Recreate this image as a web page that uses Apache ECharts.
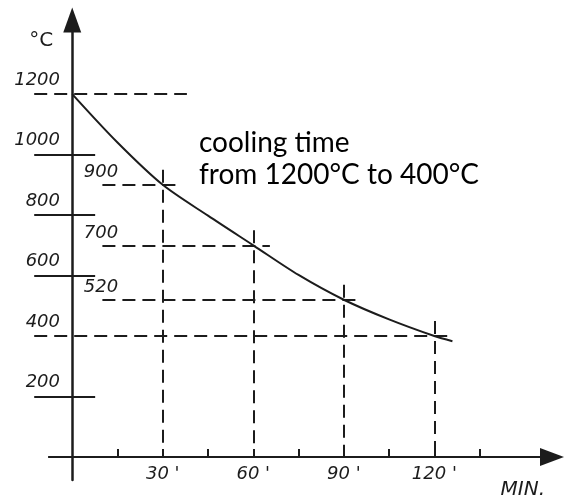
<!DOCTYPE html>
<html>
<head>
<meta charset="utf-8">
<title>Cooling time</title>
<script src="https://cdn.jsdelivr.net/npm/echarts@6.0.0/dist/echarts.min.js"></script>
<style>
  html, body { margin: 0; padding: 0; background: #fff; }
  cooling-chart { display: block; width: 565px; height: 500px; }
</style>
</head>
<body>
<cooling-chart></cooling-chart>
<script>
// cooling curve (minutes, °C)
const curveMinutes = [0, 15, 30, 45, 60, 75, 90, 105, 120, 126];
const curveTemps = [1200, 1040, 900, 798, 700, 602, 520, 455, 400, 383];

// times marked with dashed guides and the temperature read there
const markedMinutes = [30, 60, 90, 120];
const markedTemps = [900, 700, 520, 400];

// axis values
const yLabelValues = [200, 400, 600, 800, 1000, 1200];
const ySolidTicks = [200, 600, 800, 1000];
const xLabelValues = [30, 60, 90, 120];
const xTickValues = [15, 30, 45, 60, 75, 90, 105, 120, 135];

const INK = '#1c1c1c';
const DRAW_FONT = 'DejaVu Sans';

class CoolingChart extends HTMLElement {
  constructor() {
    super();
    this._chart = null;
  }

  connectedCallback() {
    this._chart = echarts.init(this);
    this._chart.setOption(this.buildOption());
    window.addEventListener('resize', this.handleResize);
  }

  disconnectedCallback() {
    window.removeEventListener('resize', this.handleResize);
    if (this._chart) {
      this._chart.dispose();
      this._chart = null;
    }
  }

  handleResize = () => {
    if (this._chart) this._chart.resize();
  };

  buildOption() {
    const xMin = -13, xMax = 159;
    const tickFrom = -12.6, tickTo = 7.6;   // short lines across the y axis
    const guideFrom = 10;                   // start of the 900/700/520 guides
    const dash = { color: INK, width: 2, type: [13, 7] };

    const solidTicks = ySolidTicks.map(v => [{ coord: [tickFrom, v] }, { coord: [tickTo, v] }]);

    // horizontal guides; the starting value gets a long one
    const hGuides = [[{ coord: [tickFrom, curveTemps[0]] }, { coord: [38, curveTemps[0]] }]];
    markedTemps.forEach((t, i) => {
      const from = yLabelValues.includes(t) ? tickFrom : guideFrom;
      hGuides.push([{ coord: [from, t] }, { coord: [markedMinutes[i] + 5.5, t] }]);
    });
    const vGuides = markedMinutes.map((m, i) => [{ coord: [m, markedTemps[i] + 50] }, { coord: [m, 0] }]);

    // x axis drawn as a line so it can start a little left of the y ticks
    const xAxisLine = [[{ coord: [-8, 0] }, { coord: [xMax, 0], symbol: 'triangle', symbolSize: [18, 24] }]];

    const innerTemps = markedTemps.filter(t => !yLabelValues.includes(t));

    const labelStyle = { fontFamily: DRAW_FONT, fontStyle: 'italic', color: INK };

    return {
      animation: false,
      grid: { left: 33, right: 13, top: 20, bottom: 20, outerBoundsMode: 'none' },
      xAxis: {
        type: 'value', min: xMin, max: xMax,
        name: 'MIN.', nameLocation: 'end', nameGap: -7,
        nameTextStyle: { ...labelStyle, fontSize: 20, align: 'right', verticalAlign: 'top', padding: [23, 0, 0, 0] },
        axisLine: { show: false, onZero: true },
        axisTick: { show: true, inside: true, length: 8, customValues: xTickValues, lineStyle: { color: INK, width: 2 } },
        axisLabel: { ...labelStyle, fontSize: 18, margin: -15, customValues: xLabelValues, formatter: v => v + " '" },
        splitLine: { show: false }
      },
      yAxis: {
        type: 'value', min: -76, max: 1445,
        name: '°C', nameLocation: 'end', nameGap: -21,
        nameTextStyle: { ...labelStyle, fontStyle: 'normal', fontSize: 20, align: 'right', verticalAlign: 'middle', padding: [0, 19, 0, 0] },
        axisLine: { onZero: true, symbol: ['none', 'triangle'], symbolSize: [18, 25], lineStyle: { color: INK, width: 2.5 } },
        axisTick: { show: false },
        axisLabel: { ...labelStyle, fontSize: 18, margin: -27, customValues: yLabelValues, formatter: v => String(v), verticalAlign: 'bottom', padding: [0, 0, 5, 0] },
        splitLine: { show: false }
      },
      title: {
        text: 'cooling time\nfrom 1200°C to 400°C',
        left: 194, top: 122,
        textStyle: { fontFamily: 'Lato', fontWeight: 'normal', fontSize: 28, lineHeight: 32, color: '#000' }
      },
      series: [
        {
          name: 'cooling', type: 'line', z: 5, clip: false,
          data: curveMinutes.map((m, i) => [m, curveTemps[i]]),
          smooth: 0.3, symbol: 'none',
          lineStyle: { color: INK, width: 2 }
        },
        {
          name: 'axis and ticks', type: 'line', data: [], clip: false,
          markLine: {
            silent: true, symbol: 'none', label: { show: false },
            lineStyle: { color: INK, width: 2, type: 'solid' },
            itemStyle: { color: INK },
            data: [...solidTicks, ...xAxisLine]
          }
        },
        {
          name: 'guides', type: 'line', data: [], clip: false,
          markLine: { silent: true, symbol: 'none', label: { show: false }, lineStyle: dash, data: [...hGuides, ...vGuides] }
        },
        {
          name: 'readings', type: 'scatter', symbolSize: 0, clip: false,
          itemStyle: { opacity: 1 },
          data: innerTemps.map(t => [15.2, t]),
          label: { show: true, ...labelStyle, fontSize: 18, position: 'left', distance: 0, verticalAlign: 'bottom', padding: [0, 0, 3, 0], formatter: p => p.value[1] }
        }
      ]
    };
  }
}

customElements.define('cooling-chart', CoolingChart);
</script>
</body>
</html>
